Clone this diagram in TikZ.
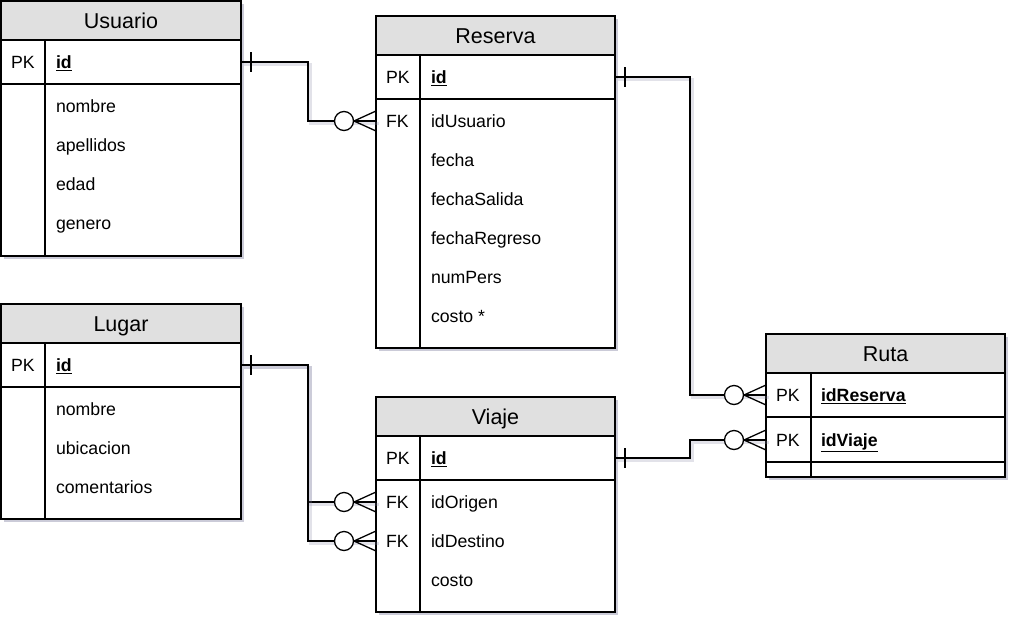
\documentclass[tikz,border=0pt]{standalone}
\usepackage{fontspec}
\setmainfont{Liberation Sans}
\usetikzlibrary{shadows,calc}
\definecolor{hdrgray}{HTML}{E0E0E0}
\definecolor{shadowc}{HTML}{8C8CA8}
\newcommand\erhdrfont{\fontsize{21.5}{24}\selectfont}
\newcommand\errowfont{\fontsize{17.7}{20}\selectfont}
% name, left x, top y, width, height, title
\newcommand\ertable[6]{%
  \node[tablebox, minimum width=#4pt, minimum height=#5pt] (#1) at (#2,#3) {};
  \node[hdrbox, minimum width=#4pt, minimum height=39pt] (#1-h) at (#2,#3) {#6};
}
% keyed row: name, left x, center y, width, key, text
\newcommand\erkeyrow[6]{%
  \node[rowbox, minimum width=#4pt] (#1) at (#2,#3) {};
  \node[rowtxt] (#1-k) at ($(#1.west)+(10,6.5)$) {#5};
  \node[rowtxt] (#1-t) at ($(#1.west)+(55,6.5)$) {#6};
}
% plain attribute: name, left x, center y, text
\newcommand\erattr[4]{%
  \node[rowtxt] (#1) at ($(#2,#3)+(55,6.5)$) {#4};
}
\newcommand\ermany[1]{%
  \draw[conn] ($(#1)+(-22,0)$) -- ($(#1)+(0,-10)$)
              ($(#1)+(-22,0)$) -- (#1)
              ($(#1)+(-22,0)$) -- ($(#1)+(0,10)$);
  \draw[conn, fill=white] ($(#1)+(-32,0)$) circle (9.5pt);
}
\newcommand\erone[1]{%
  \draw[conn] ($(#1)+(10,-10)$) -- ($(#1)+(10,10)$);
}
\begin{document}
\begin{tikzpicture}[x=1pt,y=-1pt,
  tablebox/.style={draw=black, line width=1.3pt, fill=white, inner sep=0pt, outer sep=0pt, anchor=north west,
    drop shadow={shadow xshift=3pt, shadow yshift=-3pt, fill=shadowc, opacity=0.45}},
  hdrbox/.style={draw=black, line width=1.3pt, fill=hdrgray, inner sep=0pt, outer sep=0pt, anchor=north west,
    font=\erhdrfont, text height=15.5pt, text depth=0pt},
  rowbox/.style={inner sep=0pt, outer sep=0pt, anchor=west, minimum height=44pt},
  rowtxt/.style={inner sep=0pt, outer sep=0pt, anchor=base west, font=\errowfont},
  tblline/.style={line width=1.3pt},
  conn/.style={line width=1.3pt, line join=miter},
  connpath/.style={conn, preaction={draw=shadowc, opacity=0.25, line width=3pt,
    transform canvas={shift={(2.5pt,-2.5pt)}}}},
]
\useasboundingbox (0,0) rectangle (1023,630);

% ---------- Usuario ----------
\ertable{usuario}{1}{1}{240}{255}{Usuario}
\erkeyrow{u-id}{1}{62}{240}{PK}{\underline{\textbf{id}}}
\draw[tblline] (u-id.south west) -- (u-id.south east);
\draw[tblline] ($(usuario-h.south west)+(44,0)$) -- ($(usuario.south west)+(44,0)$);
\erattr{u-nom}{1}{106}{nombre}
\erattr{u-ape}{1}{145}{apellidos}
\erattr{u-eda}{1}{184}{edad}
\erattr{u-gen}{1}{223}{genero}

% ---------- Reserva ----------
\ertable{reserva}{376}{16}{239}{332}{Reserva}
\erkeyrow{r-id}{376}{77}{239}{PK}{\underline{\textbf{id}}}
\draw[tblline] (r-id.south west) -- (r-id.south east);
\draw[tblline] ($(reserva-h.south west)+(44,0)$) -- ($(reserva.south west)+(44,0)$);
\erkeyrow{r-usu}{376}{121}{239}{FK}{idUsuario}
\erattr{r-fec}{376}{160}{fecha}
\erattr{r-fsa}{376}{199}{fechaSalida}
\erattr{r-fre}{376}{238}{fechaRegreso}
\erattr{r-num}{376}{277}{numPers}
\erattr{r-cos}{376}{316}{costo *}

% ---------- Lugar ----------
\ertable{lugar}{1}{304}{240}{215}{Lugar}
\erkeyrow{l-id}{1}{365}{240}{PK}{\underline{\textbf{id}}}
\draw[tblline] (l-id.south west) -- (l-id.south east);
\draw[tblline] ($(lugar-h.south west)+(44,0)$) -- ($(lugar.south west)+(44,0)$);
\erattr{l-nom}{1}{409}{nombre}
\erattr{l-ubi}{1}{448}{ubicacion}
\erattr{l-com}{1}{487}{comentarios}

% ---------- Viaje ----------
\ertable{viaje}{376}{397}{239}{215}{Viaje}
\erkeyrow{v-id}{376}{458}{239}{PK}{\underline{\textbf{id}}}
\draw[tblline] (v-id.south west) -- (v-id.south east);
\draw[tblline] ($(viaje-h.south west)+(44,0)$) -- ($(viaje.south west)+(44,0)$);
\erkeyrow{v-ori}{376}{502}{239}{FK}{idOrigen}
\erkeyrow{v-des}{376}{541}{239}{FK}{idDestino}
\erattr{v-cos}{376}{580}{costo}

% ---------- Ruta ----------
\ertable{ruta}{766}{334}{239}{143}{Ruta}
\erkeyrow{ru-res}{766}{395}{239}{PK}{\underline{\textbf{idReserva}}}
\draw[tblline] (ru-res.south west) -- (ru-res.south east);
\erkeyrow{ru-via}{766}{440}{239}{PK}{\underline{\textbf{idViaje}}}
\draw[tblline] (ru-via.south west) -- (ru-via.south east);
\draw[tblline] ($(ruta-h.south west)+(45,0)$) -- ($(ruta.south west)+(45,0)$);

% ---------- Connectors ----------
\draw[connpath] (u-id.east) -- ++(67,0) |- (r-usu.west);
\draw[connpath] (r-id.east) -- ++(75,0) |- (ru-res.west);
\draw[connpath] (v-id.east) -- ++(75,0) |- (ru-via.west);
\draw[connpath] (l-id.east) -- ++(67,0) |- (v-ori.west);
\draw[connpath] (l-id.east) -- ++(67,0) |- (v-des.west);

\erone{u-id.east}
\erone{r-id.east}
\erone{v-id.east}
\erone{l-id.east}
\ermany{r-usu.west}
\ermany{ru-res.west}
\ermany{ru-via.west}
\ermany{v-ori.west}
\ermany{v-des.west}
\end{tikzpicture}
\end{document}
